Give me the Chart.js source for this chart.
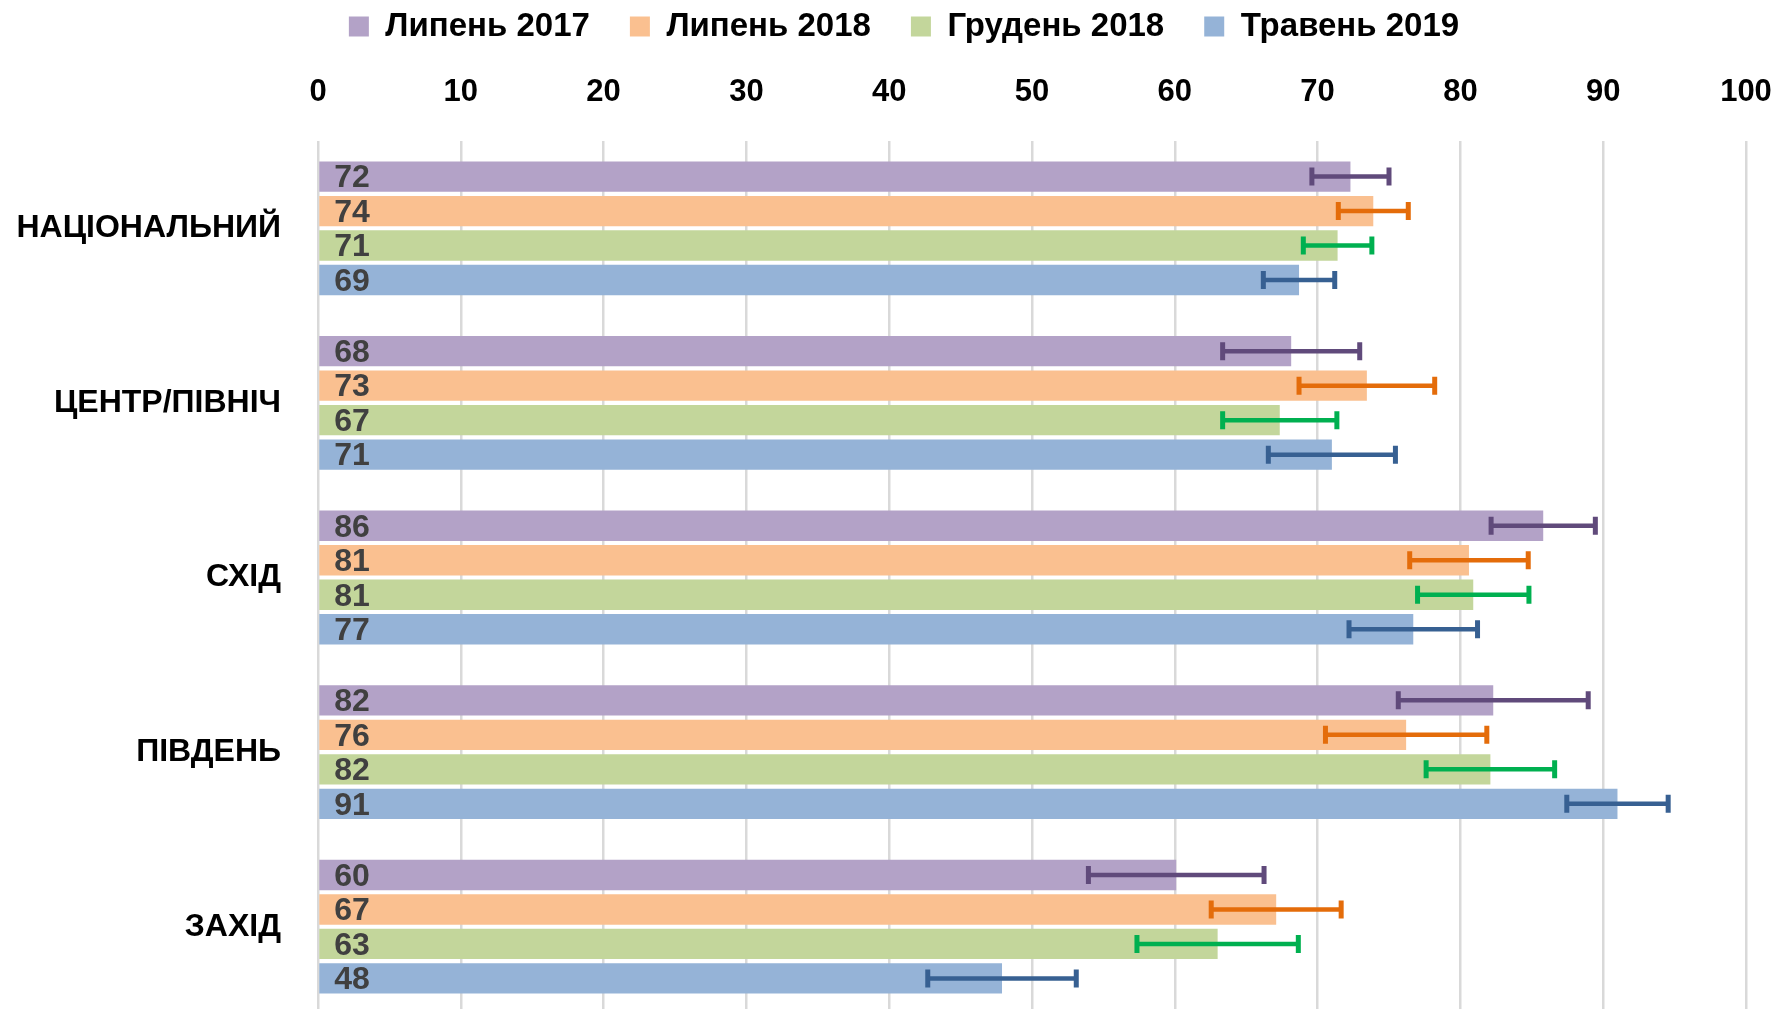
<!DOCTYPE html>
<html>
<head>
<meta charset="utf-8">
<script src="https://cdn.jsdelivr.net/npm/chart.js@4"></script>
<style>
  html, body { margin: 0; padding: 0; background: #fff; overflow: hidden; }
</style>
</head>
<body>
<canvas id="grafico" width="1786" height="1014"></canvas>
<script>
const categorias = ['НАЦІОНАЛЬНИЙ', 'ЦЕНТР/ПІВНІЧ', 'СХІД', 'ПІВДЕНЬ', 'ЗАХІД'];
const seriesNames = ['Липень 2017', 'Липень 2018', 'Грудень 2018', 'Травень 2019'];

// bar values and half-width of the error bar
const lipen2017 = [72.3, 68.15, 85.8, 82.3, 60.1];
const lipen2018 = [73.9, 73.45, 80.6, 76.2, 67.1];
const gruden2018 = [71.4, 67.35, 80.9, 82.1, 63.0];
const traven2019 = [68.7, 71.0, 76.7, 91.0, 47.9];

const err2017 = [2.7, 4.8, 3.65, 6.65, 6.15];
const err2018 = [2.45, 4.75, 4.15, 5.65, 4.55];
const errGrud = [2.4, 4.0, 3.9, 4.5, 5.65];
const errTrav = [2.5, 4.45, 4.5, 3.55, 5.2];

const xTicks = [0, 10, 20, 30, 40, 50, 60, 70, 80, 90, 100];

const fillColors = ['#b3a2c7', '#fac090', '#c3d69b', '#95b3d7'];
const errColors = ['#604a7b', '#e46c0a', '#00b050', '#376092'];
const FONT = "'Liberation Sans', Arial, sans-serif";

const valores = [lipen2017, lipen2018, gruden2018, traven2019];
const erros = [err2017, err2018, errGrud, errTrav];

// labels inside bars + error bars
const barExtras = {
  id: 'barExtras',
  afterLayout(chart) {
    // legend in the original sits a bit right of the canvas centre
    chart.legend.left += 62;
  },
  afterDatasetsDraw(chart) {
    const ctx = chart.ctx;
    const xs = chart.scales.x;
    ctx.save();
    chart.data.datasets.forEach((ds, i) => {
      const meta = chart.getDatasetMeta(i);
      meta.data.forEach((bar, j) => {
        const v = ds.data[j];
        const e = ds.errors[j];
        const x1 = xs.getPixelForValue(v - e);
        const x2 = xs.getPixelForValue(v + e);
        ctx.strokeStyle = errColors[i];
        ctx.lineWidth = 4.5;
        ctx.beginPath();
        ctx.moveTo(x1, bar.y);
        ctx.lineTo(x2, bar.y);
        ctx.stroke();
        ctx.lineWidth = 5;
        ctx.beginPath();
        ctx.moveTo(x1, bar.y - 9);
        ctx.lineTo(x1, bar.y + 9);
        ctx.moveTo(x2, bar.y - 9);
        ctx.lineTo(x2, bar.y + 9);
        ctx.stroke();

        ctx.fillStyle = '#404040';
        ctx.font = 'bold 32px ' + FONT;
        ctx.textAlign = 'left';
        ctx.textBaseline = 'middle';
        ctx.fillText(String(Math.round(v)), bar.base + 15, bar.y + 2);
      });
    });
    ctx.restore();
  }
};

const ctx = document.getElementById('grafico').getContext('2d');
new Chart(ctx, {
  type: 'bar',
  data: {
    labels: categorias,
    datasets: seriesNames.map((name, i) => ({
      label: name,
      data: valores[i],
      errors: erros[i],
      backgroundColor: fillColors[i],
      borderWidth: 0,
      categoryPercentage: 0.79,
      barPercentage: 0.88
    }))
  },
  options: {
    indexAxis: 'y',
    responsive: false,
    animation: false,
    layout: { padding: { top: -30, right: 40, left: 0, bottom: 0 } },
    plugins: {
      legend: {
        position: 'top',
        labels: {
          boxWidth: 20,
          boxHeight: 20,
          padding: 40,
          color: '#000',
          font: { family: FONT, size: 33, weight: 'bold' }
        }
      },
      tooltip: { enabled: false }
    },
    scales: {
      x: {
        position: 'top',
        min: 0,
        max: 100,
        afterBuildTicks: s => { s.ticks = xTicks.map(v => ({ value: v })); },
        afterFit: s => { s.height = 88; s.paddingLeft = 0; s.paddingRight = 0; },
        ticks: {
          padding: 30,
          color: '#000',
          font: { family: FONT, size: 31, weight: 'bold' }
        },
        grid: { color: '#d9d9d9', lineWidth: 2.5, drawTicks: false },
        border: { display: false }
      },
      y: {
        afterFit: s => { s.width = 318; s.paddingTop = 0; s.paddingBottom = 0; },
        ticks: {
          padding: 37,
          color: '#000',
          font: { family: FONT, size: 32, weight: 'bold' }
        },
        grid: { display: false, drawTicks: false },
        border: { display: false }
      }
    }
  },
  plugins: [barExtras]
});
</script>
</body>
</html>
